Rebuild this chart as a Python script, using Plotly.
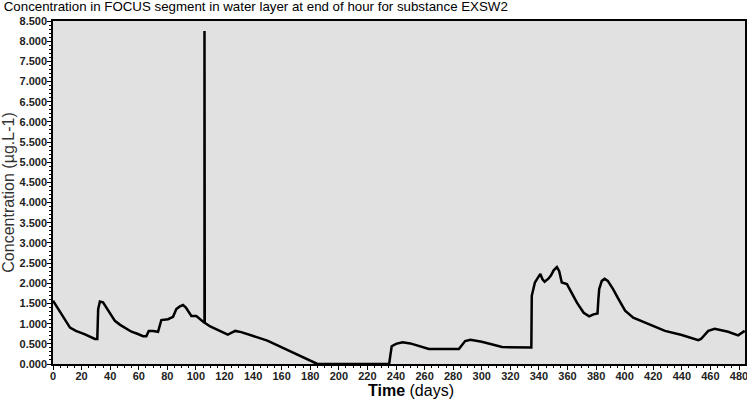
import plotly.graph_objects as go

days = [0, 4, 8, 11.9, 16, 22, 29.3, 31.0, 31.6, 32.8, 35, 39, 43.3, 47, 50.2, 54.9, 59, 63, 65.3, 67, 70, 73.5,
        75.8, 80.5, 84, 86.3, 88.5, 91, 93, 96.8, 100.3, 103, 106, 106, 106.2, 110, 116, 122.3, 127.5, 131.7, 150,
        175.9, 185, 210, 235.2, 236.2, 237, 240, 244.5, 250, 263, 284, 286, 288.4, 292.1, 300, 314.2, 334.7,
        335.0, 336, 337.2, 339, 341, 342.5, 344, 346.8, 348.5, 350.3, 352.6, 354.2, 356, 359.6, 363, 366.6,
        371.3, 375.2, 378.2, 381, 381.6, 382.2, 384, 386, 388.2, 392, 395.7, 400.3, 406, 416, 428.2, 440,
        451.5, 453.4, 456, 458.5, 463, 468, 472.4, 479.4, 484]
conc = [1.57, 1.35, 1.10, 0.90, 0.82, 0.74, 0.62, 0.62, 1.36, 1.55, 1.53, 1.30, 1.07, 0.97, 0.90, 0.80, 0.75, 0.69,
        0.69, 0.82, 0.82, 0.80, 1.09, 1.11, 1.17, 1.36, 1.42, 1.46, 1.40, 1.19, 1.19, 1.12, 1.02, 8.25, 1.02,
        0.93, 0.84, 0.73, 0.82, 0.79, 0.58, 0.15, 0.0, 0.0, 0.0, 0.25, 0.44, 0.50, 0.54, 0.51, 0.37, 0.37, 0.45,
        0.57, 0.60, 0.55, 0.42, 0.41, 1.69, 1.85, 2.02, 2.12, 2.23, 2.10, 2.04, 2.12, 2.20, 2.32, 2.40, 2.30,
        2.02, 1.98, 1.75, 1.52, 1.27, 1.18, 1.23, 1.25, 1.60, 1.86, 2.06, 2.11, 2.06, 1.85, 1.61, 1.32, 1.15,
        1.00, 0.82, 0.72, 0.59, 0.62, 0.72, 0.82, 0.87, 0.84, 0.80, 0.71, 0.82]

x_ticks = list(range(0, 481, 20))
y_ticks = [i * 0.5 for i in range(0, 18)]

fig = go.Figure()
fig.add_trace(go.Scatter(x=days, y=conc, mode="lines",
                         line=dict(color="black", width=2.5), hoverinfo="skip"))

tfont = dict(family="Liberation Sans", size=11, color="#222222", weight="bold")
fig.update_layout(
    width=747, height=400,
    margin=dict(l=53, r=2, t=21, b=36, autoexpand=False),
    paper_bgcolor="white", plot_bgcolor="#e1e1e1",
    showlegend=False,
    title=dict(text="Concentration in FOCUS segment in water layer at end of hour for substance EXSW2",
               x=0.005, xanchor="left", y=0.995, yanchor="top",
               font=dict(family="Liberation Sans", size=13.3, color="black")),
    xaxis=dict(range=[0, 484.2], tickvals=x_ticks, ticks="outside", ticklen=4, tickcolor="black",
               minor=dict(dtick=5, ticks="outside", ticklen=2, tickcolor="black"),
               showgrid=False, zeroline=False, showline=True, linecolor="black", linewidth=1.5,
               mirror=True, tickfont=tfont, automargin=False, ticklabeloverflow="allow",
               ticklabelstandoff=-3),
    yaxis=dict(range=[0, 8.5], tickvals=y_ticks, tickformat=".3f", ticks="outside", ticklen=4, tickcolor="black",
               minor=dict(dtick=0.1, ticks="outside", ticklen=2, tickcolor="black"),
               showgrid=False, zeroline=False, showline=True, linecolor="black", linewidth=1.5,
               mirror=True, tickfont=tfont, automargin=False, ticklabelstandoff=-2,
               title=dict(text="Concentration (µg.L-1)", standoff=2,
                          font=dict(family="Liberation Sans", size=16, color="#333333"))),
    annotations=[dict(text="<b>Time</b> (days)", xref="paper", yref="paper", x=0.517, y=0,
                      xanchor="center", yanchor="top", yshift=-16, showarrow=False,
                      font=dict(family="Liberation Sans", size=16, color="black"))],
)

fig.write_html("out.html", config={"displayModeBar": False},
               post_script="document.body.style.margin='0';")
